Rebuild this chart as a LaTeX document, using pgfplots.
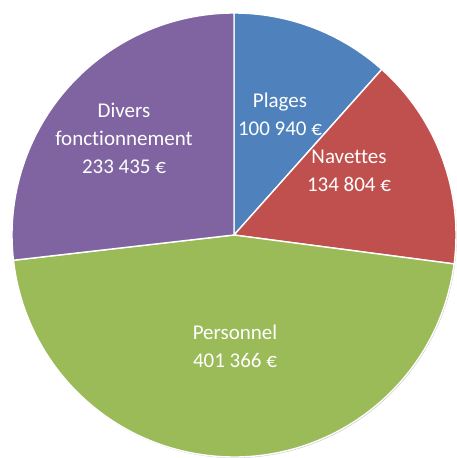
\documentclass[border=0pt]{standalone}
\usepackage{pgfplots}
\pgfplotsset{compat=1.18}
\usepackage{pgfplotstable}
\usepackage{fontspec}
\setmainfont{Carlito}[Ligatures=NoCommon]

\definecolor{cPlages}{HTML}{4F81BD}
\definecolor{cNavettes}{HTML}{C0504D}
\definecolor{cPersonnel}{HTML}{9BBB59}
\definecolor{cDivers}{HTML}{8064A2}

% budget shares, in euros
\pgfplotstableread{
label      value
Plages     100940
Navettes   134804
Personnel  401366
Divers     233435
}\piedata

% total and slice angles (clockwise from 12 o'clock)
\xdef\total{0}
\foreach \i in {0,...,3}{%
  \pgfplotstablegetelem{\i}{value}\of\piedata
  \xdef\total{\fpeval{\total+\pgfplotsretval}}%
}
\xdef\cum{0}
\foreach \i in {0,...,3}{%
  \pgfplotstablegetelem{\i}{value}\of\piedata
  \expandafter\xdef\csname sa\i\endcsname{\fpeval{90-360*\cum/\total}}%
  \xdef\cum{\fpeval{\cum+\pgfplotsretval}}%
  \expandafter\xdef\csname ea\i\endcsname{\fpeval{90-360*\cum/\total}}%
}
\def\R{222}

\begin{document}
\begin{tikzpicture}
% the picture is exactly the axis box
\useasboundingbox (0,0) rectangle (457pt,458pt);
\begin{axis}[
    at={(0,0)}, anchor=south west,
    width=457pt, height=458pt,
    scale only axis,
    hide axis,
    xmin=-234, xmax=223,
    ymin=-223, ymax=235,
    clip=false
]
% soft shadow under the pie
\fill[black!22] (axis cs:0.8,-1) circle[radius=\R];

\pgfplotsinvokeforeach{0,...,3}{
  \fill[draw=white, line width=1.4pt, line join=round,
        fill=\ifcase#1 cPlages\or cNavettes\or cPersonnel\else cDivers\fi]
    (axis cs:0,0) -- (axis cs:{\R*cos(\csname sa#1\endcsname)},{\R*sin(\csname sa#1\endcsname)})
    arc[start angle=\csname sa#1\endcsname, end angle=\csname ea#1\endcsname, radius=\R]
    -- cycle;
}

\begin{scope}[every node/.style={align=center, text=white,
    font=\fontsize{21}{28}\selectfont}]
\node at (axis cs:46,121)   {Plages\\100 940 €};
\node at (axis cs:115,64)   {Navettes\\134 804 €};
\node at (axis cs:1,-111)   {Personnel\\401 366 €};
\node at (axis cs:-110,97)  {Divers\\fonctionnement\\233 435 €};
\end{scope}
\end{axis}
\end{tikzpicture}
\end{document}
